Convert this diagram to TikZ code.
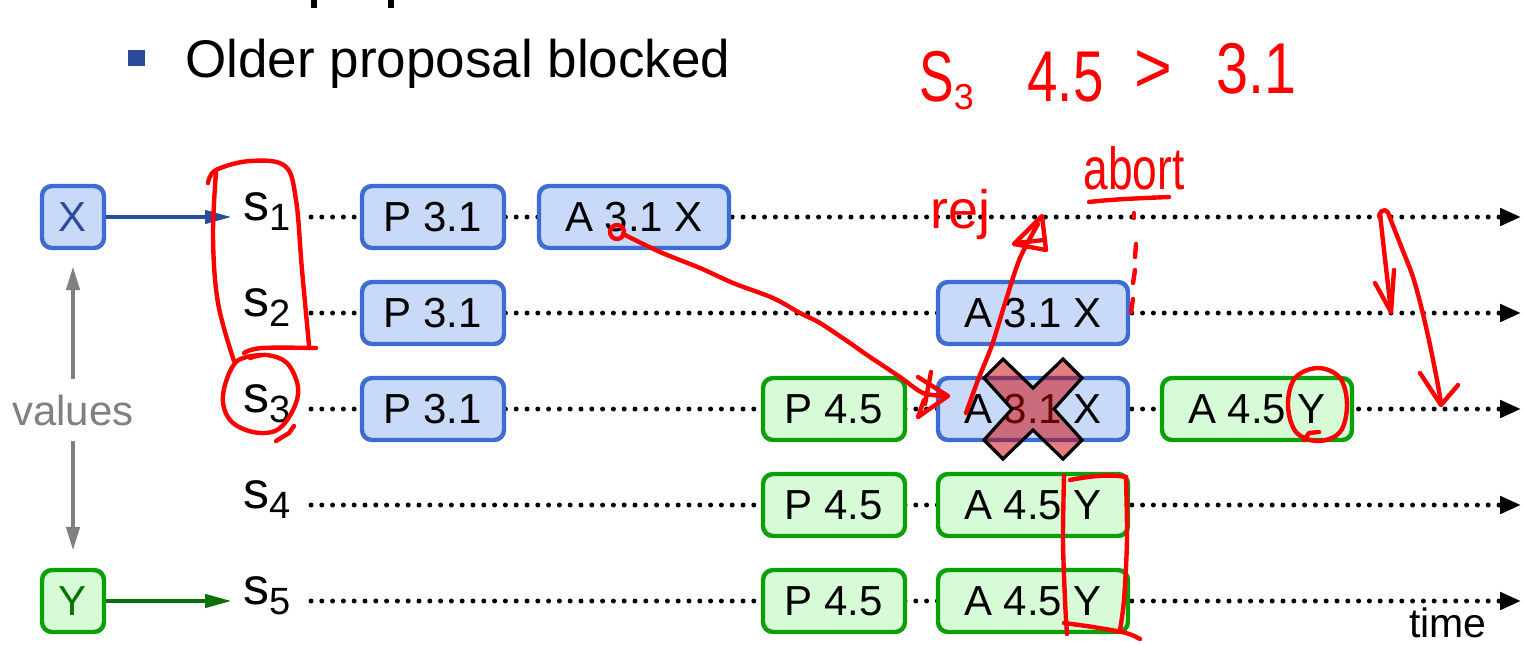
\documentclass[tikz,border=0pt]{standalone}
\usepackage{fontspec}
\setmainfont{Liberation Sans}
\usepackage{graphicx}
\usetikzlibrary{arrows.meta}

\definecolor{boxblue}{HTML}{3C6CD4}
\definecolor{fillblue}{HTML}{C9DAF8}
\definecolor{boxgreen}{HTML}{0AA00A}
\definecolor{fillgreen}{HTML}{D6FBD6}
\definecolor{darkblue}{HTML}{2A4C9C}
\definecolor{darkgreen}{HTML}{0B720B}
\definecolor{bulletblue}{HTML}{2A4A9A}
\definecolor{valuegray}{HTML}{808080}
\definecolor{inkred}{HTML}{FF0000}
\definecolor{crossred}{HTML}{CC0000}

\newcommand\fsMain{\fontsize{26.5}{30}\selectfont}
\newcommand\fsBox{\fontsize{21}{25}\selectfont}
\newcommand\fsLabel{\fontsize{26}{30}\selectfont}
\newcommand\fsSub{\fontsize{19}{22}\selectfont}
\newcommand\fsTime{\fontsize{20.5}{24}\selectfont}
\newcommand\fsNote{\fontsize{36}{40}\selectfont}
\newcommand\fsNoteSub{\fontsize{18}{20}\selectfont}
\newcommand\fsHand{\fontsize{27}{30}\selectfont}

\begin{document}
\begin{tikzpicture}[x=0.5pt,y=-0.5pt,
  box/.style={line width=2.2pt, rounded corners=5pt, minimum height=31pt,
    inner sep=0pt, font=\fsBox},
  bluebox/.style={box, draw=boxblue, fill=fillblue},
  greenbox/.style={box, draw=boxgreen, fill=fillgreen},
  pbox/.style={minimum width=71pt},
  abox/.style={minimum width=95pt},
  valbox/.style={minimum width=31pt},
  slabel/.style={anchor=base west, inner sep=0pt, font=\fsLabel},
  timeline/.style={line width=2.5pt, line cap=round, dash pattern=on 0pt off 5.4pt,
    -{Triangle[length=10.5pt,width=8.5pt]}},
  feed/.style={line width=2.2pt, -{Triangle[length=13.5pt,width=6.5pt]}},
  grayarrow/.style={line width=2.2pt, draw=valuegray,
    -{Triangle[length=12pt,width=6.5pt]}, valuegray},
  crossmark/.style={draw=black, line width=1.6pt, fill=crossred, fill opacity=0.5,
    line join=miter},
  ink/.style={draw=inkred, line width=2.2pt, line cap=round, line join=round},
  inktext/.style={text=inkred, inner sep=0pt, anchor=base west}]

\useasboundingbox (0,0) rectangle (1523,644);
\fill[white] (0,0) rectangle (1523,644);

% descenders of the line above and the bullet line
\fill (311,0) rectangle (317,8);
\fill (388,0) rectangle (394,8);
\fill[bulletblue] (128,50) rectangle (145,66);
\node[anchor=base west, inner sep=0pt, font=\fsMain] (bullet) at (185,77) {Older proposal blocked};

% time lines of the five servers
\foreach \i/\y in {1/217,2/313,3/409,4/505,5/601}{
  \coordinate (ls\i) at (311,\y);
  \coordinate (le\i) at (1521,\y);
  \draw[timeline] (ls\i) -- (le\i);
  \node[slabel] (s\i) at (243,\y+3) {s\raisebox{-5pt}{\fsSub\i}};
}
\node[anchor=base, inner sep=0pt, font=\fsTime] (time) at (1448,637) {time};

% values
\node[bluebox, valbox, text=darkblue] (X) at (73,217) {X};
\node[greenbox, valbox, text=darkgreen] (Y) at (73,601) {Y};
\node[inner sep=0pt, minimum height=31pt, font=\fsBox, text=valuegray] (values) at (73,410) {values};
\draw[grayarrow, shorten >=8pt] (values.north) -- (X.south);
\draw[grayarrow, shorten >=8.5pt] (values.south) -- (Y.north);
\draw[feed, darkblue, shorten >=5.5pt] (X.east) -- (X.east -| s1.west);
\draw[feed, darkgreen, shorten >=5.5pt] (Y.east) -- (Y.east -| s5.west);

% prepare and accept messages
\node[bluebox,pbox] (p31a) at (433,217) {P 3.1};
\node[bluebox,abox] (a31a) at (634,217) {A 3.1 X};
\node[bluebox,pbox] (p31b) at (433,313) {P 3.1};
\node[bluebox,abox] (a31b) at (1033,313) {A 3.1 X};
\node[bluebox,pbox] (p31c) at (433,409) {P 3.1};
\node[greenbox,pbox] (p45c) at (834,409) {P 4.5};
\node[bluebox,abox] (a31c) at (1033,409) {A 3.1 X};
\node[greenbox,abox] (a45c) at (1257,409) {A 4.5 Y};
\node[greenbox,pbox] (p45d) at (834,505) {P 4.5};
\node[greenbox,abox] (a45d) at (1033,505) {A 4.5 Y};
\node[greenbox,pbox] (p45e) at (834,601) {P 4.5};
\node[greenbox,abox] (a45e) at (1033,601) {A 4.5 Y};

% rejected accept
\begin{scope}[shift={(a31c.center)}]
  \draw[crossmark] (-49,-31) -- (-30,-50) -- (0,-21) -- (30,-50) -- (49,-31) -- (21,0)
    -- (49,31) -- (30,50) -- (0,21) -- (-30,50) -- (-49,31) -- (-21,0) -- cycle;
\end{scope}

% hand-written notes
\node[inktext, font=\fsNote] (n1) at (919,101) {\scalebox{0.72}[1]{S}\raisebox{-4pt}{\fsNoteSub 3}};
\node[inktext, font=\fsNote] (n2) at (1027,101) {\scalebox{0.76}[1]{4.5}};
\node[inktext, font=\fsNote] (n3) at (1134,92) {\scalebox{0.9}[1]{>}};
\node[inktext, font=\fsNote] (n4) at (1216,93) {\scalebox{0.8}[1]{3.1}};
\node[inktext, font=\fsHand] (rej) at (930,228) {rej};
\node[inktext, font=\fsHand] (abort) at (1083,189) {\scalebox{0.82}[1.1]{abort}};
\draw[ink] (1089,202) .. controls (1115,199) and (1145,198) .. (1169,197);

% brace around s1, s2 and circle around s3
\draw[ink] plot[smooth, tension=0.6] coordinates {(208,183) (216,170) (250,161) (285,166) (296,200) (302,270) (309,345)};
\draw[ink] plot[smooth, tension=0.6] coordinates {(216,172) (213,237) (218,303) (234,361)};
\draw[ink] plot[smooth, tension=0.6] coordinates {(244,353) (262,348) (316,348)};
\draw[ink] plot[smooth, tension=0.6] coordinates {(262,355) (236,362) (223,395) (230,420) (253,432) (277,430) (293,410) (298,387) (287,363) (267,355) (250,358)};
\draw[ink] (276,441) -- (289,433) -- (294,426);

% accept of s1 reaching s3
\draw[ink] (617,232) circle[radius=7];
\draw[ink] plot[smooth, tension=0.5] coordinates {(623,234) (660,252) (700,268) (733,283) (773,298) (800,313) (820,323) (850,343) (867,355) (900,377) (923,393) (946,396)};
\draw[ink] (918,377) -- (948,396) -- (918,417) -- (924,400);
\draw[ink] (931,372) -- (925,404);

% rejection sent back to s1
\draw[ink] plot[smooth, tension=0.5] coordinates {(966,413) (978,380) (992,345) (1006,300) (1020,258) (1038,224)};
\draw[ink] (1014,244) -- (1042,216) -- (1046,250) -- cycle;
\draw[ink] (1016,243) -- (1044,240);

% dashed mark under "abort"
\draw[ink] (1134,213) -- (1134,218);
\draw[ink] (1136,244) -- (1135,257);
\draw[ink] (1135,270) -- (1133,283);
\draw[ink] (1133,299) -- (1131,312);

% arrows on the right
\draw[ink] plot[smooth, tension=0.5] coordinates {(1380,214) (1384,250) (1388,285) (1391,311)};
\draw[ink] (1375,283) -- (1391,312) -- (1394,270);
\draw[ink] (1379,216) .. controls (1381,208) and (1388,208) .. (1390,218);
\draw[ink] plot[smooth, tension=0.5] coordinates {(1390,218) (1401,246) (1413,277) (1422,310) (1430,345) (1437,380) (1441,403)};
\draw[ink] (1420,373) -- (1441,405) -- (1458,385);

% circle round the Y of s3
\draw[ink] plot[smooth cycle, tension=0.6] coordinates {(1318,368) (1340,378) (1347,405) (1340,432) (1318,441) (1296,432) (1288,405) (1295,378)};
\draw[ink] (1304,440) -- (1309,433) -- (1319,432);

% bracket round the Y of s4 and s5
\draw[ink] plot[smooth, tension=0.5] coordinates {(1064,476) (1063,540) (1065,600) (1067,634)};
\draw[ink] (1070,480) .. controls (1090,476) and (1110,474) .. (1126,477);
\draw[ink] plot[smooth, tension=0.5] coordinates {(1126,477) (1127,540) (1124,600) (1120,630)};
\draw[ink] plot[smooth, tension=0.5] coordinates {(1064,623) (1093,627) (1126,633) (1140,639)};
\end{tikzpicture}
\end{document}
